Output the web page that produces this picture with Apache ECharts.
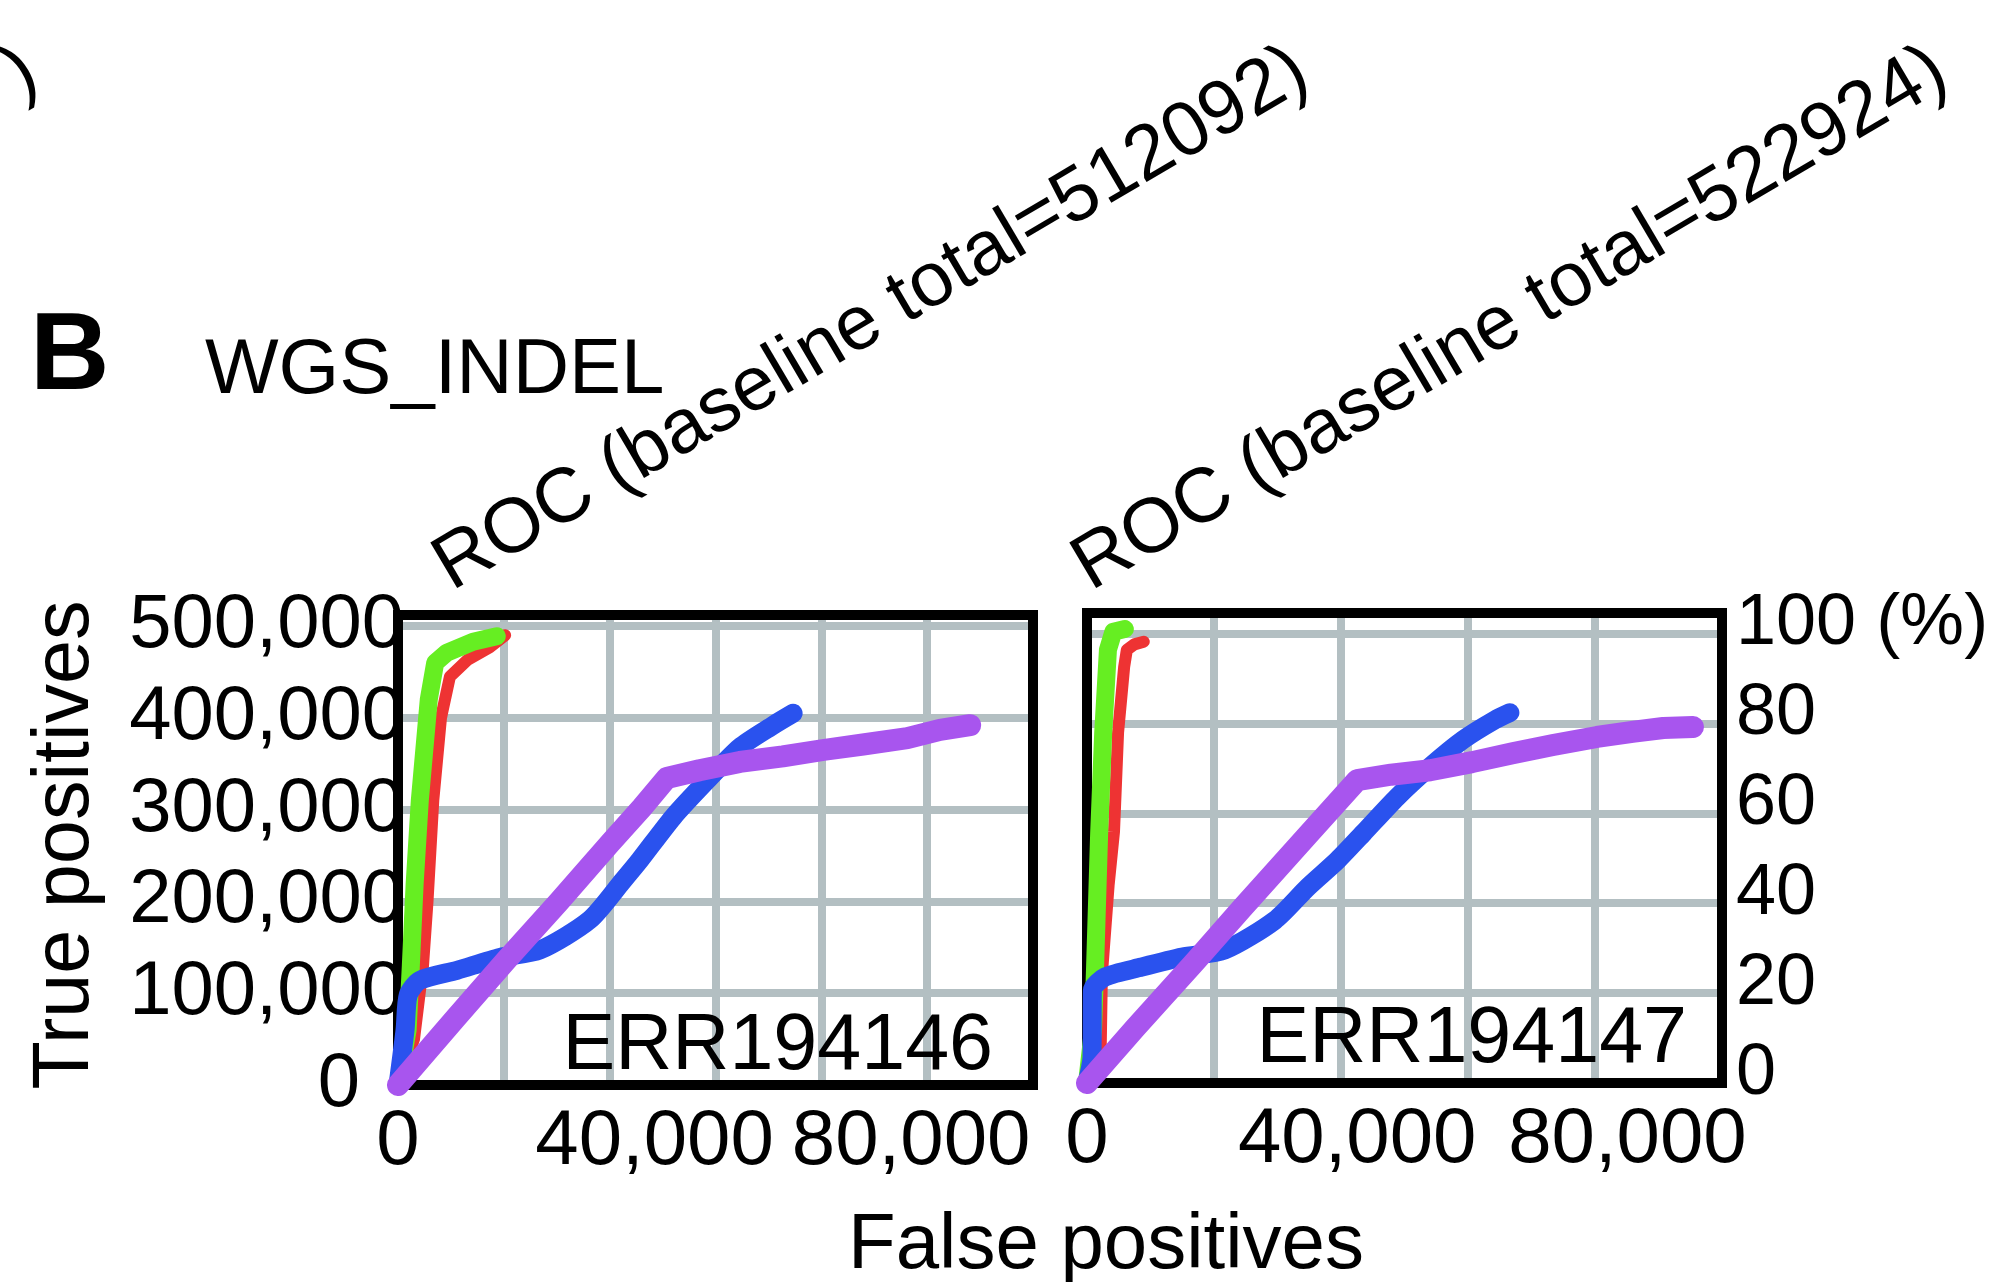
<!DOCTYPE html>
<html><head><meta charset="utf-8">
<script src="https://cdn.jsdelivr.net/npm/echarts@6/dist/echarts.min.js"></script>
<style>html,body{margin:0;padding:0;background:#fff}#c{width:2004px;height:1282px}</style>
</head><body><div id="c"></div>
<script>
// ---------- DATA ----------
const panelNames = ['ERR194146', 'ERR194147'];
const baselineTotals = [512092, 522924];
const xTickValues = [0, 40000, 80000];
const yTickValues = [0, 100000, 200000, 300000, 400000, 500000];
const pctTickValues = [0, 20, 40, 60, 80, 100];

// ERR194146
const red146X = [0, 2500, 3900, 4600, 5500, 6700, 8100, 10800, 14300, 16700];
const red146Y = [0, 50000, 130000, 200000, 310000, 400000, 445000, 463000, 477000, 490000];
const green146X = [0, 1500, 2000, 2600, 3400, 4800, 5800, 7600, 11700, 15400];
const green146Y = [0, 60000, 130000, 220000, 310000, 420000, 460000, 471000, 483000, 489000];
const blue146X = [0, 1100, 1600, 3400, 9200, 15900, 22100, 29900, 35100, 37700, 42900, 48200, 53300, 58500, 61600];
const blue146Y = [0, 60000, 98000, 114000, 125000, 139000, 147000, 180000, 223000, 245000, 292000, 332000, 368000, 392000, 405000];
const purple146X = [0, 9000, 17000, 25000, 33000, 38000, 41900, 47000, 53300, 60000, 66300, 72500, 79400, 84500, 89200];
const purple146Y = [0, 73000, 137000, 199000, 263000, 302000, 334500, 343000, 352000, 358000, 365000, 371000, 378000, 387000, 392000];

// ERR194147
const red147X = [0, 2000, 2200, 3200, 4000, 4600, 5500, 5900, 7000, 8400];
const red147Y = [0, 25000, 120000, 220000, 280000, 390000, 463000, 482000, 488000, 491000];
const green147X = [0, 900, 1200, 1800, 2400, 3100, 3900, 5600];
const green147Y = [0, 60000, 130000, 278000, 390000, 482000, 502000, 505000];
const blue147X = [0, 740, 800, 2700, 8100, 14100, 20400, 27800, 32700, 37100, 40900, 45900, 50800, 55700, 60400, 62600];
const blue147Y = [0, 29000, 103000, 118000, 129000, 140000, 148000, 181000, 218000, 248000, 278000, 318000, 352000, 382000, 404000, 412000];
const purple147X = [0, 7100, 16000, 22900, 32700, 37500, 40000, 45000, 50800, 57000, 63000, 69000, 75500, 81000, 85300, 89700];
const purple147Y = [0, 61000, 135000, 194000, 276000, 316000, 337000, 343000, 348000, 357000, 367000, 376000, 385000, 391000, 395000, 396000];

// ---------- STYLE ----------
const FONT = '"Liberation Sans", Arial, Helvetica, sans-serif';
const GRIDC = '#b3bfc2';
const COL = { red: '#ee3333', green: '#66ee22', blue: '#2a52ee', purple: '#a855ee' };
const WID = { red: 12, green: 18, blue: 19, purple: 22 };

function pairs(xs, ys) { return xs.map((x, i) => [x, ys[i]]); }
function comma(v) { return String(v).replace(/\B(?=(\d{3})+(?!\d))/g, ','); }

const chart = echarts.init(document.getElementById('c'), null, { renderer: 'canvas' });

const grids = [
  { left: 398, top: 615, width: 635, height: 470, show: true, borderColor: '#000', borderWidth: 10, backgroundColor: 'transparent', z: 1 },
  { left: 1087, top: 613, width: 635, height: 470, show: true, borderColor: '#000', borderWidth: 10, backgroundColor: 'transparent', z: 1 }
];

const xLabel = {
  fontSize: 78, fontFamily: FONT, color: '#000', margin: 18, showMaxLabel: false,
  formatter: v => xTickValues.includes(v) ? comma(v) : ''
};

const xAxes = [
  { type: 'value', gridIndex: 0, min: 0, max: 99000, interval: 40000, axisLine: { show: false }, axisTick: { show: false }, splitLine: { show: false }, axisLabel: xLabel },
  { type: 'value', gridIndex: 0, position: 'top', min: 0, max: 6, interval: 1, axisLine: { show: false }, axisTick: { show: false }, axisLabel: { show: false }, splitLine: { show: true, lineStyle: { color: GRIDC, width: 8 } } },
  { type: 'value', gridIndex: 1, min: 0, max: 94000, interval: 40000, axisLine: { show: false }, axisTick: { show: false }, splitLine: { show: false }, axisLabel: xLabel },
  { type: 'value', gridIndex: 1, position: 'top', min: 0, max: 5, interval: 1, axisLine: { show: false }, axisTick: { show: false }, axisLabel: { show: false }, splitLine: { show: true, lineStyle: { color: GRIDC, width: 8 } } }
];

const yAxes = [
  { type: 'value', gridIndex: 0, min: 0, max: baselineTotals[0], interval: 100000,
    axisLine: { show: false }, axisTick: { show: false },
    splitLine: { show: true, lineStyle: { color: GRIDC, width: 8 } },
    axisLabel: { fontSize: 76, fontFamily: FONT, color: '#000', margin: -6, showMaxLabel: false,
      formatter: v => v === 0 ? '{z|0}' : (yTickValues.includes(v) ? comma(v) : ''),
      rich: { z: { fontSize: 76, fontFamily: FONT, color: '#000', padding: [0, 44, 0, 0] } } } },
  { type: 'value', gridIndex: 1, min: 0, max: baselineTotals[1], interval: 100000,
    axisLine: { show: false }, axisTick: { show: false }, axisLabel: { show: false },
    splitLine: { show: true, lineStyle: { color: GRIDC, width: 8 } } },
  { type: 'value', gridIndex: 1, position: 'right', min: 0, max: 100 * baselineTotals[1] / 500000, interval: 20,
    axisLine: { show: false }, axisTick: { show: false }, splitLine: { show: false },
    axisLabel: { fontSize: 72, fontFamily: FONT, color: '#000', margin: 14, showMaxLabel: false,
      formatter: v => pctTickValues.includes(v) ? '{p|' + (v === 100 ? '100 (%)' : String(v)) + '}' : '',
      rich: { p: { fontSize: 72, fontFamily: FONT, color: '#000', padding: [0, 0, 18, 0] } } } }
];

function line(name, xs, ys, color, width, xi, yi, smooth) {
  return {
    type: 'line', name, xAxisIndex: xi, yAxisIndex: yi, data: pairs(xs, ys),
    showSymbol: false, symbol: 'none', smooth: smooth || false, clip: true, animation: false, silent: true,
    lineStyle: { color, width, cap: 'round', join: 'round' }, itemStyle: { color }
  };
}

const series = [
  line('red146', red146X, red146Y, COL.red, WID.red, 0, 0),
  line('green146', green146X, green146Y, COL.green, WID.green, 0, 0),
  line('blue146', blue146X, blue146Y, COL.blue, WID.blue, 0, 0, 0.25),
  line('purple146', purple146X, purple146Y, COL.purple, WID.purple, 0, 0),
  line('red147', red147X, red147Y, COL.red, WID.red, 2, 1),
  line('green147', green147X, green147Y, COL.green, WID.green, 2, 1),
  line('blue147', blue147X, blue147Y, COL.blue, WID.blue, 2, 1, 0.25),
  line('purple147', purple147X, purple147Y, COL.purple, WID.purple, 2, 1)
];

const DEG = 30.5;
const ROT = DEG * Math.PI / 180;
const TF = 77;
const title1 = [441, 573], title2 = [1080, 573];
const parenAlong = 12.845 * TF;
const corner = [title1[0] + parenAlong * Math.cos(ROT) - 1284, title1[1] - parenAlong * Math.sin(ROT) + 8];

function txt(text, x, y, size, opts) {
  return Object.assign({
    type: 'text', x, y, z: 10,
    style: Object.assign({ text, fontSize: size, fontFamily: FONT, fill: '#000', align: 'left', verticalAlign: 'middle' }, (opts && opts.style) || {})
  }, (opts && opts.el) || {});
}

const graphics = [
  txt(')', corner[0], corner[1], TF, { el: { rotation: ROT } }),
  txt('B', 30, 359, 110, { style: { fontWeight: 'bold' } }),
  txt('WGS_INDEL', 205, 371, 78),
  txt('ROC (baseline total=' + baselineTotals[0] + ')', title1[0], title1[1], TF, { el: { rotation: ROT } }),
  txt('ROC (baseline total=' + baselineTotals[1] + ')', title2[0], title2[1], TF, { el: { rotation: ROT } }),
  txt('True positives', 66, 845, 79, { el: { rotation: Math.PI / 2 }, style: { align: 'center' } }),
  txt('False positives', 1106, 1246, 78, { style: { align: 'center' } }),
  txt(panelNames[0], 993, 1047, 79, { style: { align: 'right' } }),
  txt(panelNames[1], 1687, 1040, 79, { style: { align: 'right' } })
];

chart.setOption({
  backgroundColor: '#fff',
  animation: false,
  grid: grids,
  xAxis: xAxes,
  yAxis: yAxes,
  series,
  graphic: { elements: graphics }
});
</script>
</body></html>
